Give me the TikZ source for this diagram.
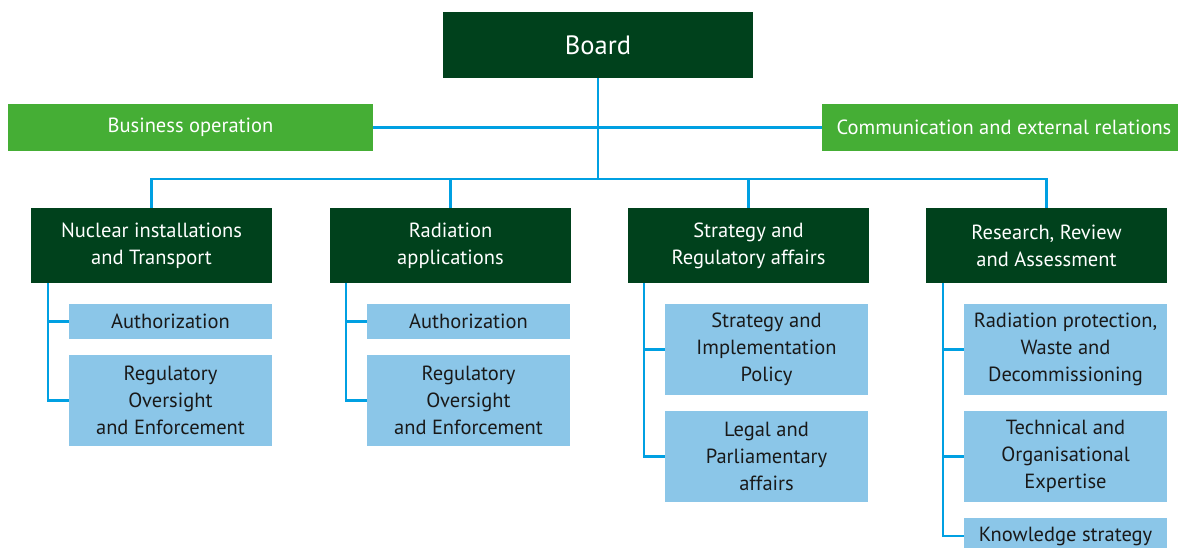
\documentclass[tikz,border=0pt]{standalone}
\usepackage{fontspec}
\setmainfont{PT Sans}
\definecolor{boardgreen}{RGB}{0,65,28}
\definecolor{staffgreen}{RGB}{69,174,53}
\definecolor{unitblue}{RGB}{139,198,232}
\definecolor{linkblue}{RGB}{0,160,226}
\tikzset{
  mainbox/.style={fill=boardgreen, text=white, inner sep=0pt, align=center,
    minimum width=241pt, minimum height=75pt, font=\fontsize{20.5}{27}\selectfont},
  staffbox/.style={fill=staffgreen, text=white, inner sep=0pt, align=center,
    minimum height=47pt, font=\fontsize{20.5}{27}\selectfont},
  unitbox/.style={fill=unitblue, text=black!90, inner sep=0pt, align=center,
    minimum width=203pt, font=\fontsize{20.5}{27}\selectfont},
  link/.style={draw=linkblue, line width=2.5pt}
}
\begin{document}
\begin{tikzpicture}[x=1pt, y=-1pt]
  % Page frame in pixel units of the chart
  \useasboundingbox (0,0) rectangle (1178,547);

  % Top of the chart
  \node[fill=boardgreen, text=white, minimum width=310pt, minimum height=66pt,
    inner sep=0pt, font=\fontsize{26.5}{30}\selectfont] (board) at (598,45) {Board};
  \node[staffbox, minimum width=365pt] (bizop) at (190.5,127.5) {Business operation};
  \node[staffbox, minimum width=364pt] (comm) at (1004,127.5) {Communication and external relations};

  % Directorates
  \node[mainbox] (nuc) at (151.5,245.5) {Nuclear installations\\and Transport};
  \node[mainbox] (rad) at (450.5,245.5) {Radiation\\applications};
  \node[mainbox] (strat) at (748.5,245.5) {Strategy and\\Regulatory affairs};
  \node[mainbox] (res) at (1046.5,245.5) {Research, Review\\and Assessment};

  % Departments below each directorate
  \node[unitbox, minimum height=35pt] (auth1) at (170.5,321.5) {Authorization};
  \node[unitbox, minimum height=91pt] (reg1) at (170.5,400.5) {Regulatory\\Oversight\\and Enforcement};
  \node[unitbox, minimum height=35pt] (auth2) at (468.5,321.5) {Authorization};
  \node[unitbox, minimum height=91pt] (reg2) at (468.5,400.5) {Regulatory\\Oversight\\and Enforcement};
  \node[unitbox, minimum height=91pt] (impl) at (766.5,349.5) {Strategy and\\Implementation\\Policy};
  \node[unitbox, minimum height=91pt] (legal) at (766.5,456.5) {Legal and\\Parliamentary\\affairs};
  \node[unitbox, minimum height=91pt] (waste) at (1065.5,349.5) {Radiation protection,\\Waste and\\Decommissioning};
  \node[unitbox, minimum height=91pt] (tech) at (1065.5,456.5) {Technical and\\Organisational\\Expertise};
  \node[unitbox, minimum height=36pt] (know) at (1065.5,536) {Knowledge strategy};

  % Bus line under the board
  \coordinate (bus) at (598,179);

  % Connectors
  \draw[link] (board.south) -- (bus);
  \draw[link] (bizop.east) -- (comm.west);
  \draw[link] (nuc.north) |- (res.north |- bus) -- (res.north);
  \draw[link] (rad.north) -- (rad.north |- bus);
  \draw[link] (strat.north) -- (strat.north |- bus);

  \draw[link] ([xshift=17pt]nuc.south west) |- (auth1.west);
  \draw[link] ([xshift=17pt]nuc.south west) |- (reg1.west);
  \draw[link] ([xshift=16pt]rad.south west) |- (auth2.west);
  \draw[link] ([xshift=16pt]rad.south west) |- (reg2.west);
  \draw[link] ([xshift=16pt]strat.south west) |- (impl.west);
  \draw[link] ([xshift=16pt]strat.south west) |- (legal.west);
  \draw[link] ([xshift=17pt]res.south west) |- (waste.west);
  \draw[link] ([xshift=17pt]res.south west) |- (tech.west);
  \draw[link] ([xshift=17pt]res.south west) |- (know.west);

\end{tikzpicture}
\end{document}
